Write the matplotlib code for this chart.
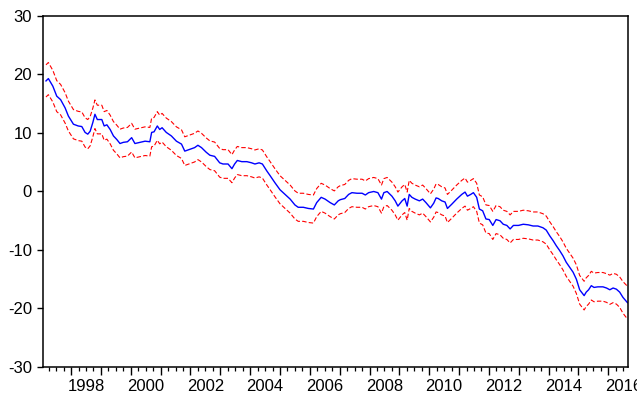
import matplotlib
matplotlib.use("Agg")
import matplotlib.pyplot as plt
import matplotlib.transforms as mtransforms
from matplotlib.ticker import FixedLocator, NullFormatter

plt.rcParams["font.family"] = ["Liberation Sans", "DejaVu Sans"]

# Observation dates (decimal years), fitted estimate and +/- 2 s.e. half-width
dates = [
    1997.16, 1997.24, 1997.39, 1997.52, 1997.65, 1997.80, 1997.91, 1998.08, 1998.24, 1998.36,
    1998.47, 1998.56, 1998.64, 1998.73, 1998.80, 1998.88, 1999.03, 1999.11, 1999.20, 1999.31,
    1999.42, 1999.53, 1999.64, 1999.75, 1999.89, 2000.03, 2000.14, 2000.31, 2000.48, 2000.64,
    2000.70, 2000.78, 2000.89, 2000.97, 2001.05, 2001.19, 2001.36, 2001.53, 2001.70, 2001.81,
    2001.98, 2002.14, 2002.25, 2002.37, 2002.53, 2002.65, 2002.81, 2002.98, 2003.09, 2003.26,
    2003.39, 2003.48, 2003.57, 2003.72, 2003.89, 2004.05, 2004.16, 2004.30, 2004.41, 2004.56,
    2004.67, 2004.83, 2005.00, 2005.17, 2005.34, 2005.50, 2005.61, 2005.78, 2005.95, 2006.12,
    2006.23, 2006.38, 2006.51, 2006.68, 2006.82, 2006.95, 2007.02, 2007.17, 2007.30, 2007.41,
    2007.58, 2007.75, 2007.86, 2007.97, 2008.14, 2008.28, 2008.40, 2008.48, 2008.59, 2008.75,
    2008.86, 2008.95, 2009.09, 2009.18, 2009.26, 2009.33, 2009.42, 2009.53, 2009.67, 2009.78,
    2009.89, 2010.04, 2010.15, 2010.23, 2010.30, 2010.42, 2010.53, 2010.61, 2010.75, 2010.92,
    2011.09, 2011.20, 2011.28, 2011.39, 2011.48, 2011.59, 2011.68, 2011.79, 2011.90, 2012.01,
    2012.13, 2012.24, 2012.37, 2012.48, 2012.60, 2012.71, 2012.82, 2012.99, 2013.15, 2013.32,
    2013.48, 2013.64, 2013.81, 2013.92, 2014.04, 2014.15, 2014.26, 2014.37, 2014.48, 2014.59,
    2014.71, 2014.82, 2014.93, 2015.04, 2015.19, 2015.26, 2015.34, 2015.43, 2015.52, 2015.65,
    2015.82, 2015.94, 2016.05, 2016.16, 2016.27, 2016.38, 2016.49, 2016.64,
]
estimate = [
    18.9, 19.3, 18.0, 16.3, 15.7, 14.3, 12.9, 11.5, 11.2, 11.1,
    10.1, 9.8, 10.3, 11.8, 13.2, 12.3, 12.3, 11.2, 11.4, 10.6,
    9.5, 8.9, 8.2, 8.4, 8.5, 9.2, 8.2, 8.4, 8.6, 8.5,
    10.1, 10.2, 11.2, 10.6, 10.9, 10.1, 9.5, 8.6, 8.1, 6.9,
    7.2, 7.5, 7.9, 7.5, 6.7, 6.2, 6.0, 4.9, 4.7, 4.7,
    3.9, 4.7, 5.3, 5.1, 5.1, 4.9, 4.7, 4.9, 4.7, 3.5,
    2.7, 1.5, 0.3, -0.5, -1.3, -2.3, -2.7, -2.7, -2.9, -3.0,
    -1.9, -1.0, -1.3, -1.9, -2.3, -1.6, -1.4, -1.2, -0.5, -0.2,
    -0.3, -0.3, -0.6, -0.2, 0.0, -0.2, -1.3, -0.2, 0.0, -0.8,
    -1.6, -2.5, -1.6, -1.2, -2.5, -0.5, -1.0, -1.3, -1.6, -1.3,
    -1.9, -2.8, -2.0, -1.1, -1.2, -1.6, -1.8, -2.9, -2.2, -1.3,
    -0.5, -0.1, -0.8, -0.5, -0.2, -1.0, -3.0, -3.3, -4.7, -4.8,
    -5.8, -4.8, -5.0, -5.6, -5.8, -6.4, -5.8, -5.8, -5.6, -5.7,
    -5.9, -5.9, -6.2, -6.6, -7.6, -8.4, -9.3, -10.1, -11.0, -12.1,
    -13.0, -13.8, -15.0, -16.8, -17.8, -17.2, -16.8, -16.1, -16.4, -16.3,
    -16.3, -16.5, -16.8, -16.5, -16.7, -17.2, -18.1, -19.0,
]
band = [
    2.75, 2.75, 2.70, 2.65, 2.60, 2.60, 2.55, 2.50, 2.50, 2.50,
    2.50, 2.50, 2.50, 2.45, 2.45, 2.45, 2.45, 2.45, 2.45, 2.45,
    2.45, 2.45, 2.45, 2.45, 2.45, 2.45, 2.45, 2.45, 2.45, 2.45,
    2.45, 2.45, 2.45, 2.45, 2.45, 2.45, 2.45, 2.45, 2.45, 2.45,
    2.45, 2.45, 2.45, 2.45, 2.45, 2.45, 2.45, 2.45, 2.45, 2.45,
    2.40, 2.40, 2.40, 2.40, 2.40, 2.40, 2.40, 2.40, 2.40, 2.40,
    2.40, 2.40, 2.40, 2.40, 2.40, 2.40, 2.40, 2.40, 2.40, 2.40,
    2.40, 2.40, 2.40, 2.40, 2.40, 2.40, 2.40, 2.40, 2.40, 2.40,
    2.40, 2.40, 2.40, 2.40, 2.40, 2.40, 2.40, 2.40, 2.40, 2.40,
    2.40, 2.40, 2.40, 2.40, 2.40, 2.40, 2.40, 2.40, 2.40, 2.40,
    2.40, 2.40, 2.40, 2.40, 2.40, 2.40, 2.40, 2.40, 2.40, 2.40,
    2.40, 2.40, 2.40, 2.40, 2.40, 2.40, 2.40, 2.40, 2.40, 2.40,
    2.40, 2.40, 2.40, 2.40, 2.40, 2.40, 2.40, 2.40, 2.40, 2.40,
    2.40, 2.40, 2.40, 2.40, 2.40, 2.40, 2.40, 2.40, 2.40, 2.40,
    2.40, 2.40, 2.45, 2.45, 2.45, 2.45, 2.45, 2.45, 2.45, 2.45,
    2.45, 2.45, 2.50, 2.50, 2.55, 2.60, 2.70, 2.80,
]
assert len(dates) == len(estimate) == len(band)

year_labels = [1998, 2000, 2002, 2004, 2006, 2008, 2010, 2012, 2014, 2016]
y_ticks = [-30, -20, -10, 0, 10, 20, 30]

upper = [m + b for m, b in zip(estimate, band)]
lower = [m - b for m, b in zip(estimate, band)]

fig = plt.figure(figsize=(6.37, 3.93), dpi=100)
ax = fig.add_axes([0.0675, 0.0662, 0.9184, 0.8931])

ax.plot(dates, upper, color="#ff0000", lw=0.8, dashes=(4, 2))
ax.plot(dates, lower, color="#ff0000", lw=0.8, dashes=(4, 2))
ax.plot(dates, estimate, color="#0000ff", lw=1.0)

ax.set_xlim(1997.06, 2016.66)
ax.set_ylim(-30, 30)

for side in ax.spines:
    ax.spines[side].set_linewidth(1.1)
    ax.spines[side].set_color("black")

ax.set_yticks(y_ticks)
ax.set_yticklabels([str(v) for v in y_ticks])
ax.tick_params(axis="y", direction="out", length=4, width=1.0, pad=4,
               labelsize=12, right=False)

# yearly major ticks, quarterly minor ticks, year labels centred in the year
years = list(range(1998, 2017))
ax.xaxis.set_major_locator(FixedLocator(years))
ax.xaxis.set_major_formatter(NullFormatter())
quarters = [y + q / 4 for y in range(1997, 2017) for q in range(1, 4)]
ax.xaxis.set_minor_locator(FixedLocator(quarters))
ax.tick_params(axis="x", which="major", direction="out", length=6, width=1.0, top=False)
ax.tick_params(axis="x", which="minor", direction="out", length=3, width=0.9, top=False)

trans = mtransforms.offset_copy(
    mtransforms.blended_transform_factory(ax.transData, ax.transAxes),
    fig=fig, x=0, y=-12, units="dots")
for yr in year_labels:
    ax.text(yr + 0.5, 0, str(yr), transform=trans, ha="center", va="top",
            fontsize=12, clip_on=False)

fig.savefig("out.png", dpi=100)
